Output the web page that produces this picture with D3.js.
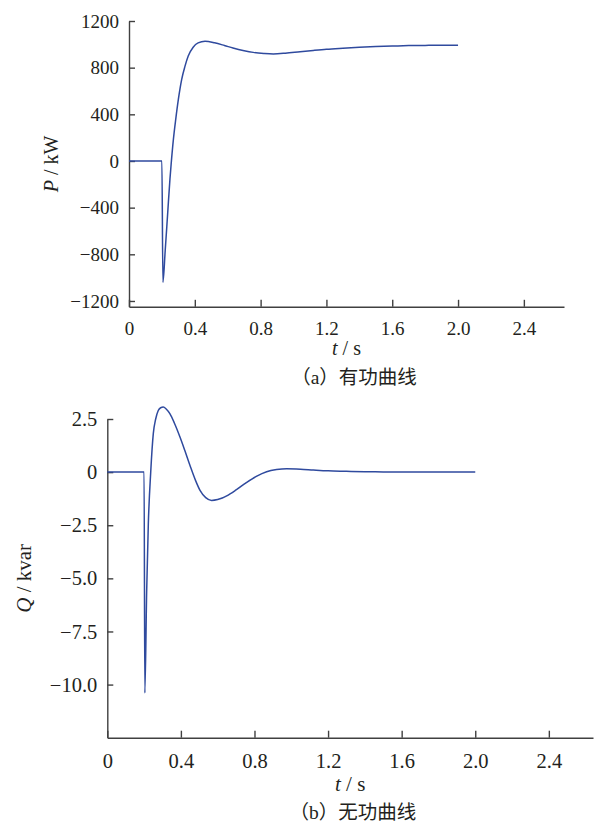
<!DOCTYPE html>
<html>
<head>
<meta charset="utf-8">
<script src="https://cdn.jsdelivr.net/npm/d3@7"></script>
<style>
  body { margin: 0; background: #fff; }
  text { fill: #231f20; }
</style>
</head>
<body>
<div id="chart"></div>
<script>
// active power, kW
const tP = [0, 0.2, 0.206, 0.22, 0.235, 0.249, 0.256, 0.27, 0.284, 0.30, 0.32, 0.34, 0.36, 0.39, 0.42, 0.462, 0.52, 0.58, 0.632, 0.7, 0.755, 0.82, 0.877, 0.95, 1.04, 1.12, 1.2, 1.3, 1.4, 1.5, 1.6, 1.7, 1.8, 1.9, 2.0];
const P = [0, 0, -1040, -770, -450, -153, -30, 187, 357, 528, 698, 811, 900, 975, 1012, 1026, 1013, 990, 968, 945, 931, 922, 918, 924, 937, 948, 958, 967, 975, 981, 985, 989, 991, 992, 993];

// reactive power, kvar
const tQ = [0, 0.2, 0.204, 0.214, 0.223, 0.236, 0.25, 0.263, 0.277, 0.29, 0.304, 0.32, 0.34, 0.365, 0.395, 0.42, 0.45, 0.48, 0.504, 0.535, 0.567, 0.6, 0.625, 0.649, 0.7, 0.758, 0.81, 0.866, 0.92, 0.975, 1.05, 1.12, 1.2, 1.3, 1.4, 1.5, 1.6, 1.8, 2.0];
const Q = [0, 0, -10.4, -5.6, -2.43, 0, 1.81, 2.5, 2.9, 3.03, 3.06, 2.97, 2.75, 2.3, 1.65, 1.05, 0.3, -0.4, -0.86, -1.2, -1.33, -1.29, -1.22, -1.12, -0.84, -0.48, -0.2, 0.02, 0.12, 0.16, 0.14, 0.1, 0.06, 0.04, 0.02, 0.01, 0, 0, 0];

const tTicks = [0, 0.4, 0.8, 1.2, 1.6, 2.0, 2.4];
const pTicks = [-1200, -800, -400, 0, 400, 800, 1200];
const qTicks = [-10, -7.5, -5, -2.5, 0, 2.5];

const width = 594, height = 828;
const lineColor = "#2f4a9e";
const axisColor = "#404040";
const serif = "'Liberation Serif', 'Times New Roman', Tinos, 'DejaVu Serif', 'Noto Serif', serif";
const cjk = "'Liberation Serif', 'Times New Roman', 'DejaVu Serif', 'Noto Sans CJK SC', serif";

const svg = d3.select("#chart").append("svg")
  .attr("width", width)
  .attr("height", height);

const fmt1 = (d) => d === 0 ? "0" : d3.format(".1f")(d);

function drawPanel(o) {
  const x = d3.scaleLinear().domain([0, o.tMax]).range([o.left, o.right]);
  const y = d3.scaleLinear().domain(o.yDomain).range([o.bottom, o.top]);
  const g = svg.append("g");

  const xAxis = g.append("g")
    .attr("transform", `translate(0,${o.bottom})`)
    .call(d3.axisBottom(x).tickValues(tTicks).tickFormat(fmt1)
      .tickSizeInner(-7).tickSizeOuter(0).tickPadding(o.fs * 0.75));
  const yAxis = g.append("g")
    .attr("transform", `translate(${o.left},0)`)
    .call(d3.axisLeft(y).tickValues(o.yTicks).tickFormat(o.yFormat)
      .tickSizeInner(-6).tickSizeOuter(0).tickPadding(10));

  [xAxis, yAxis].forEach((a) => {
    a.attr("font-family", null);
    a.selectAll("path, line").attr("stroke", axisColor).attr("stroke-width", 1.4);
    a.selectAll("text")
      .attr("fill", "#231f20")
      .style("font-family", serif)
      .style("font-size", `${o.fs}px`);
  });

  const line = d3.line()
    .x((d) => x(d[0]))
    .y((d) => y(d[1]))
    .curve(d3.curveMonotoneX);

  g.append("path")
    .datum(o.t.map((t, i) => [t, o.v[i]]))
    .attr("fill", "none")
    .attr("stroke", lineColor)
    .attr("stroke-width", 1.5)
    .attr("d", line);

  // y label
  const yl = g.append("text")
    .attr("transform", `translate(${o.yLabelX},${(o.top + o.bottom) / 2}) rotate(-90)`)
    .attr("text-anchor", "middle")
    .style("font-family", serif)
    .style("font-size", `${o.fsLabel}px`);
  yl.append("tspan").style("font-style", "italic").text(o.yName);
  yl.append("tspan").text(` / ${o.yUnit}`);

  // x label
  const xl = g.append("text")
    .attr("x", (o.left + o.right) / 2)
    .attr("y", o.xLabelY)
    .attr("text-anchor", "middle")
    .style("font-family", serif)
    .style("font-size", `${o.fsLabel}px`);
  xl.append("tspan").style("font-style", "italic").text("t");
  xl.append("tspan").text(" / s");

  g.append("text")
    .attr("x", o.capX)
    .attr("y", o.capY)
    .attr("text-anchor", "middle")
    .style("font-family", cjk)
    .style("font-size", "19.5px")
    .text(o.caption);
}

drawPanel({
  t: tP, v: P, tMax: 2.644, yDomain: [-1250, 1200], yTicks: pTicks,
  yFormat: d3.format("d"),
  left: 129, right: 564, top: 21, bottom: 306.8,
  fs: 19, fsLabel: 20,
  yName: "P", yUnit: "kW", yLabelX: 58, xLabelY: 355,
  caption: "（a）有功曲线", capX: 354, capY: 384
});

drawPanel({
  t: tQ, v: Q, tMax: 2.64, yDomain: [-12.5, 2.5], yTicks: qTicks,
  yFormat: fmt1,
  left: 107.3, right: 593, top: 419, bottom: 737.7,
  fs: 20.5, fsLabel: 21,
  yName: "Q", yUnit: "kvar", yLabelX: 31, xLabelY: 791,
  caption: "（b）无功曲线", capX: 353, capY: 819
});
</script>
</body>
</html>
